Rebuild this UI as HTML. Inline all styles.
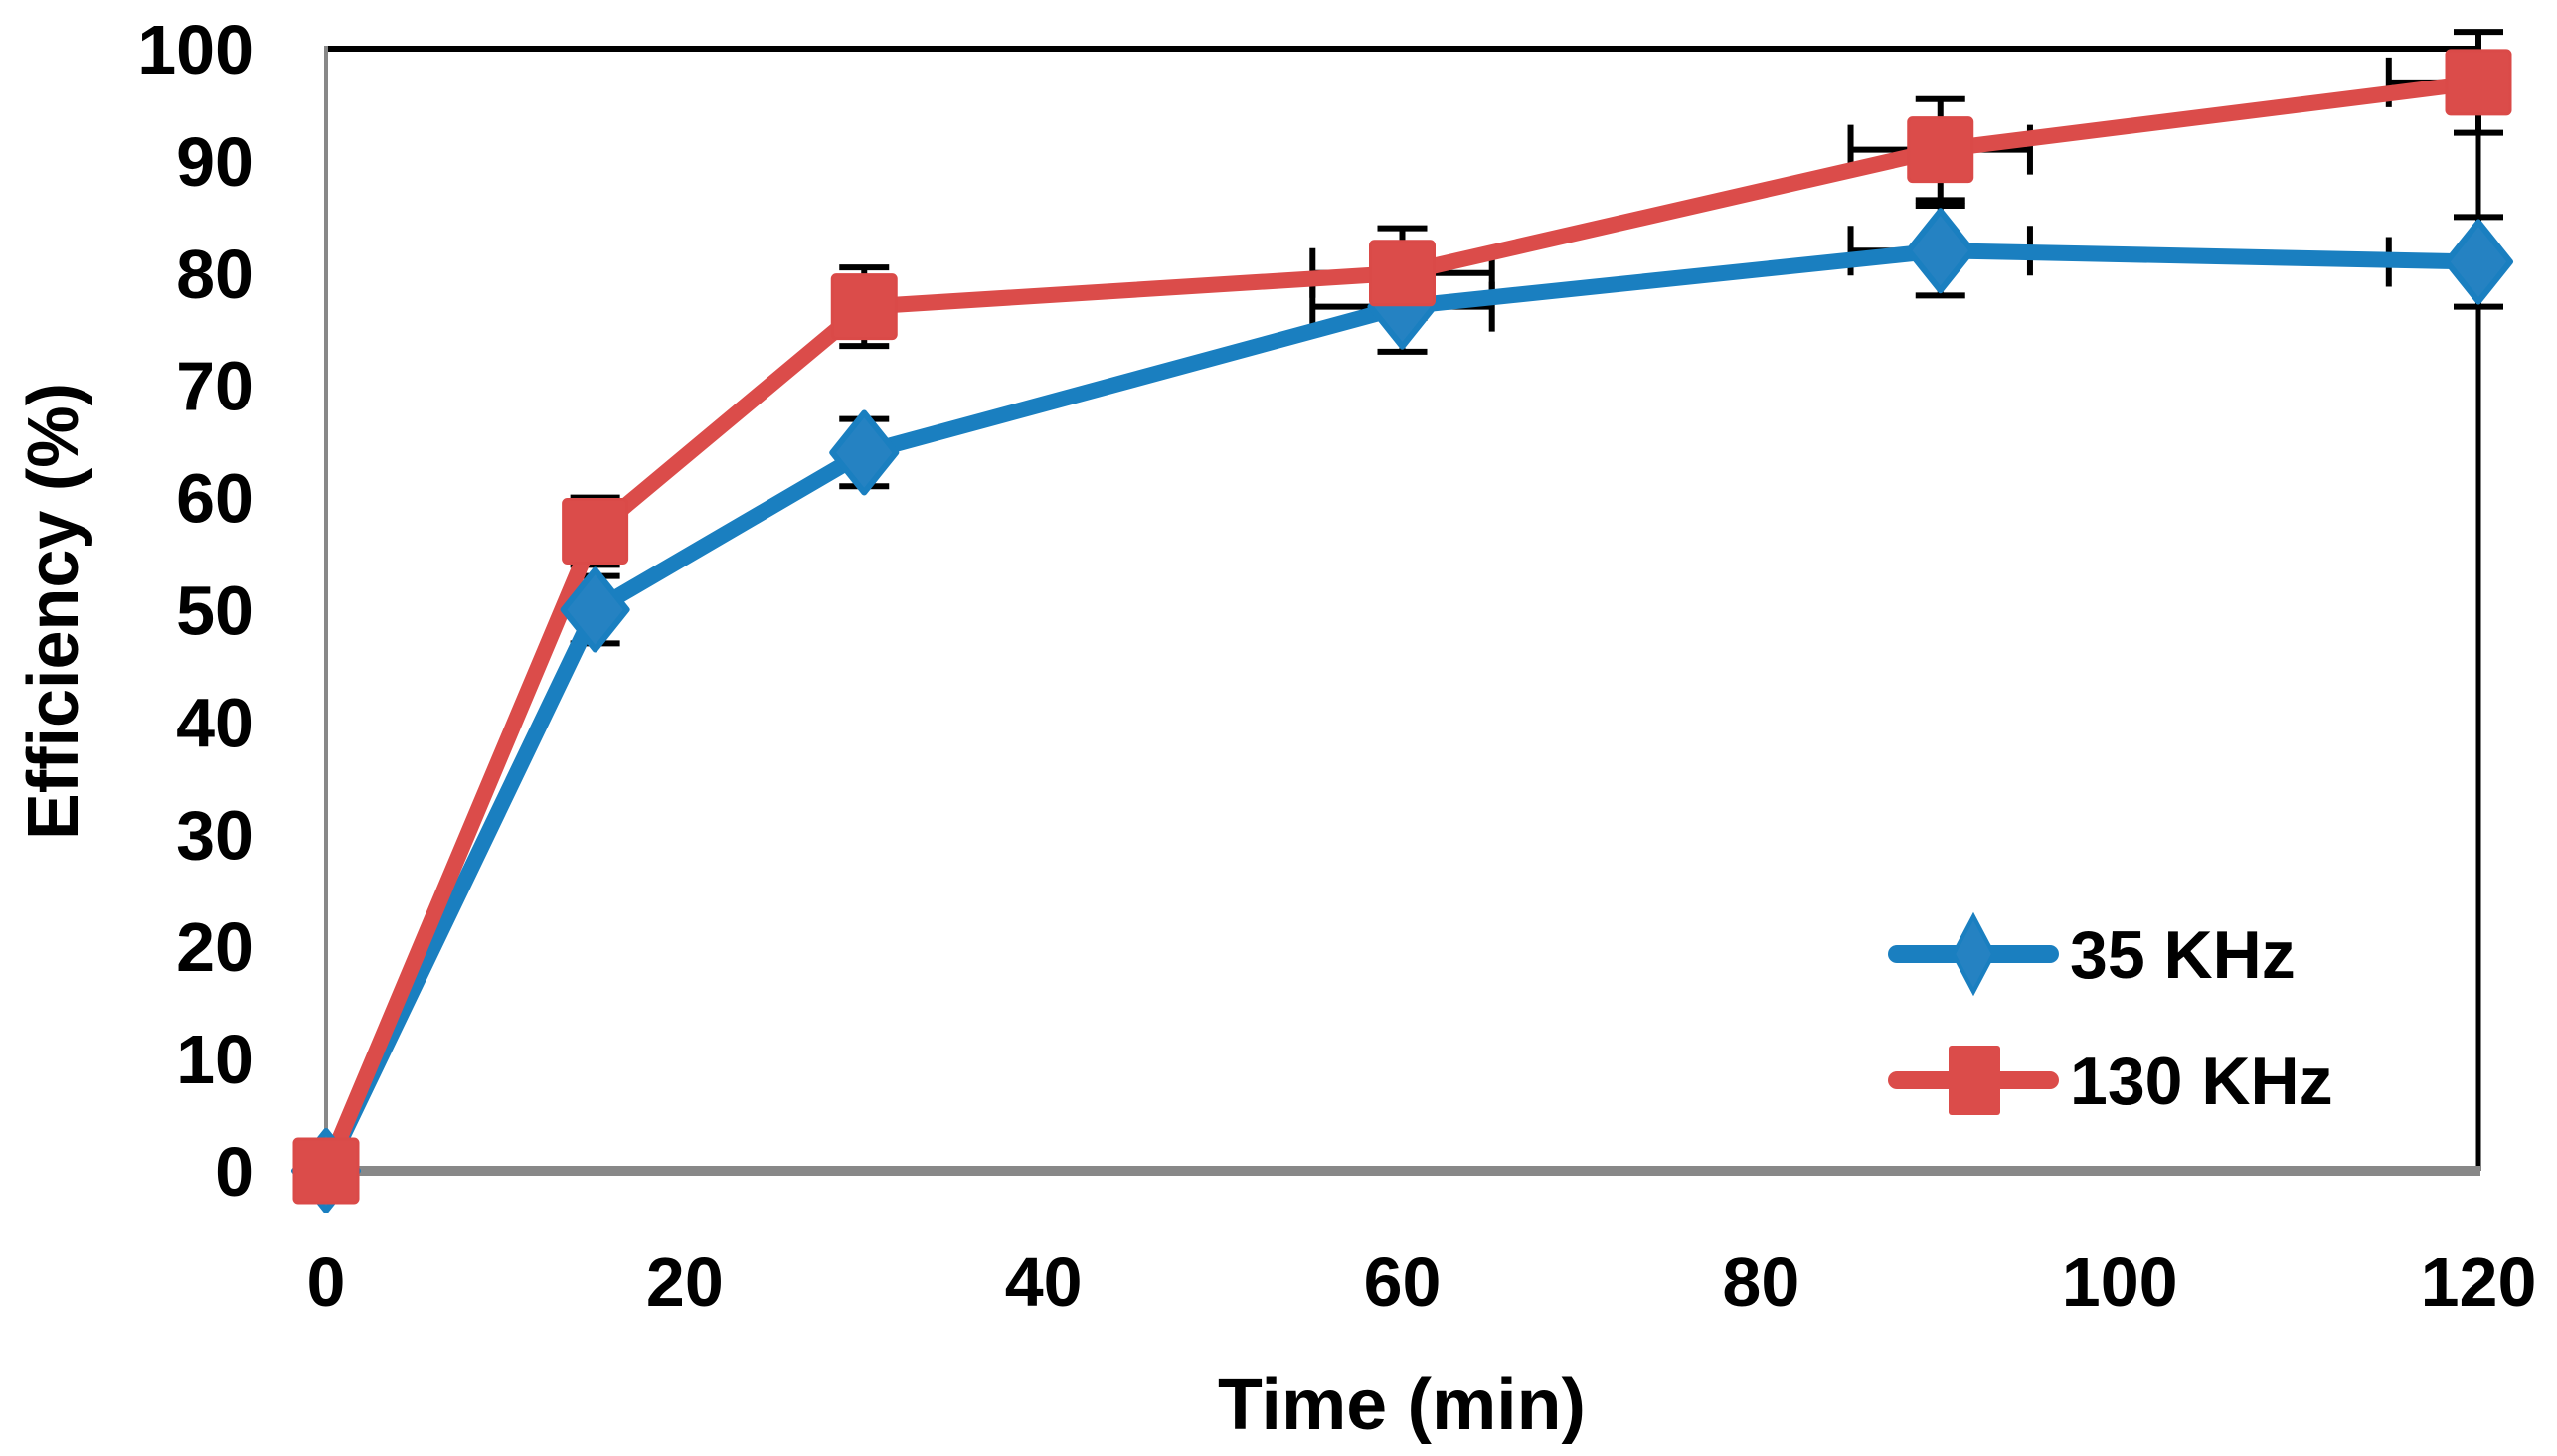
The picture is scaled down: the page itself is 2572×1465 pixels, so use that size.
<!DOCTYPE html>
<html><head><meta charset="utf-8"><style>
html,body{margin:0;padding:0;background:#fff;}
svg{display:block;font-family:"Liberation Sans",sans-serif;font-weight:bold;}
</style></head><body>
<svg id="chart" width="2572" height="1465" viewBox="0 0 2572 1465" xmlns="http://www.w3.org/2000/svg"></svg>
<script>
const times = [0, 15, 30, 60, 90, 120];
const series35 = [0, 50, 64, 77, 82, 81];
const series130 = [0, 57, 77, 80, 91, 97];
const err35 = [0, 3, 3, 4, 4, 4];
const err130 = [0, 3, 3.5, 4, 4.5, 4.5];
const xErr = [0, 0, 0, 5, 5, 5];
const yTicks = [0, 10, 20, 30, 40, 50, 60, 70, 80, 90, 100];
const xTicks = [0, 20, 40, 60, 80, 100, 120];

const L = 328, R = 2493, T = 49, B = 1178;
const xS = v => L + (v / 120) * (R - L);
const yS = v => B - (v / 100) * (B - T);
const svg = document.getElementById('chart');
const NS = 'http://www.w3.org/2000/svg';
function mk(tag, attrs, parent) {
  const e = document.createElementNS(NS, tag);
  for (const k in attrs) e.setAttribute(k, attrs[k]);
  (parent || svg).appendChild(e);
  return e;
}
let e;
e = mk('line', {x1: L, y1: T, x2: R, y2: T, stroke: '#000', 'stroke-width': 6});


e = mk('line', {x1: R, y1: T, x2: R, y2: B, stroke: '#000', 'stroke-width': 5});


e = mk('line', {x1: L, y1: T - 3, x2: L, y2: B, stroke: '#888', 'stroke-width': 4});


e = mk('line', {x1: L, y1: B, x2: R + 2, y2: B, stroke: '#888', 'stroke-width': 10});



yTicks.forEach(v => {
  const t = mk('text', {x: 255, y: yS(v) + 25, 'text-anchor': 'end', 'font-size': 70, fill: '#000'});
  t.textContent = v;
  
  
});
xTicks.forEach(v => {
  const t = mk('text', {x: xS(v), y: 1314, 'text-anchor': 'middle', 'font-size': 70, fill: '#000'});
  t.textContent = v;
  
  
});
e = mk('text', {x: 1410, y: 1438, 'text-anchor': 'middle', 'font-size': 72, fill: '#000', textLength: 370, lengthAdjust: 'spacingAndGlyphs'});
e.textContent = 'Time (min)';


e = mk('text', {x: 0, y: 0, 'text-anchor': 'middle', 'font-size': 72, fill: '#000', textLength: 460, lengthAdjust: 'spacingAndGlyphs', transform: 'translate(78,615) rotate(-90)'});
e.textContent = 'Efficiency (%)';



function errorBars(vals, errs, name) {
  times.forEach((t, i) => {
    if (!errs[i]) return;
    const cx = xS(t), y1 = yS(vals[i] + errs[i]), y2 = yS(vals[i] - errs[i]);
    const g = mk('g', {stroke: '#000', 'stroke-width': 6});
    
    
    mk('line', {x1: cx, y1: y1, x2: cx, y2: y2}, g);
    mk('line', {x1: cx - 25, y1: y1, x2: cx + 25, y2: y1}, g);
    mk('line', {x1: cx - 25, y1: y2, x2: cx + 25, y2: y2}, g);
    if (xErr[i]) {
      const cy = yS(vals[i]);
      const xa = xS(t - xErr[i]), xb = Math.min(xS(t + xErr[i]), R);
      mk('line', {x1: xa, y1: cy, x2: xb, y2: cy}, g);
      mk('line', {x1: xa, y1: cy - 25, x2: xa, y2: cy + 25}, g);
      if (xb < R) mk('line', {x1: xb, y1: cy - 25, x2: xb, y2: cy + 25}, g);
    }
  });
}
errorBars(series35, err35, 'series-35khz');
errorBars(series130, err130, 'series-130khz');

function lineSeries(vals, color, name) {
  const pts = times.map((t, i) => xS(t) + ',' + yS(vals[i])).join(' ');
  const p = mk('polyline', {points: pts, fill: 'none', stroke: color, 'stroke-width': 16, 'stroke-linejoin': 'round'});
  
  
}
lineSeries(series35, '#1a7fc0', 'series-35khz');
lineSeries(series130, '#db4c4a', 'series-130khz');

function diamond(cx, cy) {
  return mk('polygon', {points: `${cx},${cy-40} ${cx+32},${cy} ${cx},${cy+40} ${cx-32},${cy}`, fill: '#2582c2', stroke: '#1a7fc0', 'stroke-width': 6, 'stroke-linejoin': 'round'});
}
function square(cx, cy) {
  return mk('rect', {x: cx - 32, y: cy - 32, width: 64, height: 64, rx: 4, fill: '#db4c4a', stroke: '#da4a48', 'stroke-width': 3});
}
times.forEach((t, i) => {
  const d = diamond(xS(t), yS(series35[i]));
  
  
});
times.forEach((t, i) => {
  const s = square(xS(t), yS(series130[i]));
  
  
});

const lg = mk('g', {});


let l1 = mk('line', {x1: 1908, y1: 960, x2: 2062, y2: 960, stroke: '#1a7fc0', 'stroke-width': 18, 'stroke-linecap': 'round'}, lg);


let m1 = mk('polygon', {points: '1985,922 2005,960 1985,998 1965,960', fill: '#2582c2', stroke: '#1a7fc0', 'stroke-width': 4}, lg);


let t1 = mk('text', {x: 2082, y: 984, 'font-size': 68, fill: '#000'}, lg);
t1.textContent = '35 KHz';


let l2 = mk('line', {x1: 1908, y1: 1087, x2: 2062, y2: 1087, stroke: '#db4c4a', 'stroke-width': 18, 'stroke-linecap': 'round'}, lg);


let m2 = mk('rect', {x: 1960, y: 1052, width: 52, height: 70, rx: 3, fill: '#db4c4a'}, lg);


let t2 = mk('text', {x: 2082, y: 1111, 'font-size': 68, fill: '#000'}, lg);
t2.textContent = '130 KHz';


</script>
</body></html>
